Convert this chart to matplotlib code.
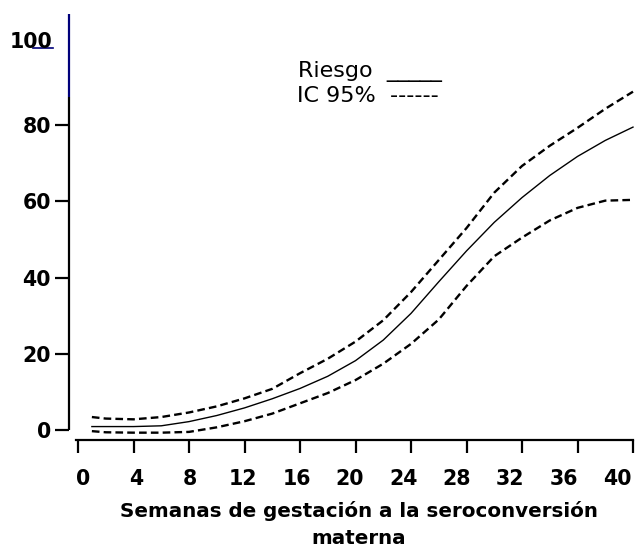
import matplotlib
matplotlib.use("Agg")
import matplotlib.pyplot as plt
import matplotlib.transforms as mtransforms

# ---- data ----
weeks = [1, 2, 4, 6, 8, 10, 12, 14, 16, 18, 20, 22, 24, 26, 28, 30, 32, 34, 36, 38, 40]
riesgo = [0.9, 0.9, 0.9, 1.1, 2.2, 3.8, 5.8, 8.2, 10.9, 14.1, 18.2, 23.6, 30.6, 38.9,
          47.0, 54.5, 61.0, 66.8, 71.8, 76.0, 79.5]
ic_sup = [3.4, 3.0, 2.8, 3.4, 4.6, 6.2, 8.3, 10.8, 14.9, 18.7, 23.2, 28.8, 36.2, 44.6,
          53.0, 62.3, 69.3, 74.6, 79.3, 84.3, 88.8]
ic_inf = [-0.3, -0.6, -0.7, -0.7, -0.5, 0.7, 2.3, 4.3, 7.0, 9.7, 13.1, 17.4, 22.6, 29.0,
          37.8, 45.6, 50.5, 55.0, 58.3, 60.2, 60.4]
x_ticks = [0, 4, 8, 12, 16, 20, 24, 28, 32, 36, 40]
y_ticks = [0, 20, 40, 60, 80]
x_label = "Semanas de gestación a la seroconversión"
x_label2 = "materna"
leg1 = "Riesgo  _____"
leg2 = "IC 95%  ------"

plt.rcParams['font.family'] = ['DejaVu Sans']
plt.rcParams['lines.scale_dashes'] = False

W, H = 636, 549
fig = plt.figure(figsize=(W / 100, H / 100), dpi=100)
fig.patch.set_facecolor('white')

# axes in pixel geometry
L, R, T, B = 69, 633, 14, 440
ax = fig.add_axes([L / W, (H - B) / H, (R - L) / W, (B - T) / H])

# scales: week 0 at px 78, 13.875 px/week ; value 0 at px 430, 3.81 px/unit
x0 = (L - 78) / 13.875
ax.set_xlim(x0, 40)
ax.set_ylim((430 - B) / 3.81, (430 - T) / 3.81)

ax.plot(weeks, riesgo, color='black', lw=1.0, clip_on=False, zorder=3)
ax.plot(weeks, ic_sup, color='black', lw=1.7, dashes=(5.5, 3), clip_on=False, zorder=3)
ax.plot(weeks, ic_inf, color='black', lw=1.7, dashes=(5.5, 3), clip_on=False, zorder=3)

# spines
for s in ['top', 'right', 'left']:
    ax.spines[s].set_visible(False)
ax.spines['bottom'].set_linewidth(1.6)
ax.spines['bottom'].set_bounds((76 - 78) / 13.875, 40)

# left axis line: black lower part, navy upper part
yb = (430 - 97) / 3.81
ytop = (430 - T) / 3.81
ax.plot([x0, x0], [0, yb], color='black', lw=1.6, clip_on=False, solid_capstyle='butt')
ax.plot([x0, x0], [yb, ytop], color='#00007a', lw=1.6, clip_on=False, solid_capstyle='butt')

# y ticks
ax.set_yticks(y_ticks)
ax.set_yticklabels([str(v) for v in y_ticks])
ax.tick_params(axis='y', which='major', direction='out', length=10, width=1.6,
               pad=3, labelsize=14.8)
for lab in ax.get_yticklabels():
    lab.set_fontweight('bold')

# "100" label and its navy underline
btr = mtransforms.blended_transform_factory(ax.transAxes, ax.transData)
ax.text(-(L - 52) / (R - L), (430 - 42.5) / 3.81, "100", transform=btr,
        ha='right', va='center', fontsize=14.8, fontweight='bold')
ax.plot([-(L - 33) / (R - L), -(L - 53) / (R - L)], [100.3, 100.3], transform=btr,
        color='#00007a', lw=1.2, clip_on=False)

# x ticks (marks) and labels (slightly different spacing)
ax.set_xticks(x_ticks)
ax.set_xticklabels([''] * len(x_ticks))
ax.tick_params(axis='x', which='major', direction='out', length=9.4, width=1.6)
lab_pos = [(83 + v * 13.35 - 78) / 13.875 for v in x_ticks]
ax.set_xticks(lab_pos, minor=True)
ax.set_xticklabels([str(v) for v in x_ticks], minor=True, fontsize=14.8, fontweight='bold')
ax.tick_params(axis='x', which='minor', length=0, pad=21)

# x axis title
fig.text(359 / W, 1 - 517 / H, x_label, ha='center', va='baseline',
         fontsize=14.3, fontweight='bold')
fig.text(359 / W, 1 - 544 / H, x_label2, ha='center', va='baseline',
         fontsize=14.3, fontweight='bold')

# legend text
fig.text(298 / W, 1 - 77 / H, leg1, ha='left', va='baseline', fontsize=16)
fig.text(297 / W, 1 - 102 / H, leg2, ha='left', va='baseline', fontsize=16)

fig.savefig('out.png', dpi=100, facecolor='white')
